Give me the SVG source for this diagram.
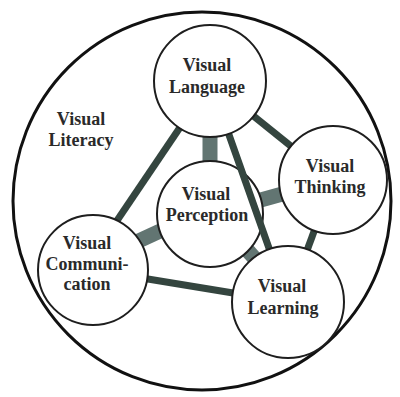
<svg xmlns="http://www.w3.org/2000/svg" width="400" height="397" viewBox="0 0 400 397">
  <style>
    .node { fill: #ffffff; stroke: #1e1e1e; stroke-width: 2; }
    .label { font-family: "Liberation Serif", "Times New Roman", serif; font-weight: bold; font-size: 18px; fill: #2a2a2a; text-anchor: middle; }
    .link { stroke: #34453f; stroke-width: 7; fill: none; }
    .bridge { stroke: #627572; stroke-width: 15; fill: none; }
  </style>
  <rect width="400" height="397" fill="#ffffff"/>

  <!-- Visual Literacy: the enclosing field -->
  <g id="visual-literacy">
    <circle cx="202" cy="201" r="189" fill="none" stroke="#111111" stroke-width="3"/>
    <text class="label" x="81" y="125">Visual</text>
    <text class="label" x="81" y="146">Literacy</text>
  </g>

  <!-- short bridges from the central circle -->
  <g id="bridges">
    <line class="bridge" x1="210" y1="214" x2="210" y2="81"/>
    <line class="bridge" x1="210" y1="214" x2="333" y2="180"/>
    <line class="bridge" x1="210" y1="208" x2="93" y2="262"/>
    <line class="bridge" x1="210" y1="208" x2="288" y2="296" stroke="#7d8f8b"/>
  </g>

  <g id="visual-perception">
    <circle class="node" cx="210" cy="214" r="53"/>
    <text class="label" x="206" y="200">Visual</text>
    <text class="label" x="207" y="221">Perception</text>
  </g>

  <!-- ring of connectors between the outer circles -->
  <g id="connectors">
    <line class="link" x1="185" y1="120" x2="112" y2="228"/>
    <line class="link" x1="210" y1="81" x2="288" y2="302"/>
    <line class="link" x1="210" y1="81" x2="333" y2="180"/>
    <line class="link" x1="333" y1="180" x2="288" y2="302"/>
    <line class="link" x1="93" y1="270" x2="288" y2="302"/>
  </g>

  <g id="visual-language">
    <circle class="node" cx="210" cy="81" r="56"/>
    <text class="label" x="207" y="71">Visual</text>
    <text class="label" x="207" y="93">Language</text>
  </g>

  <g id="visual-thinking">
    <circle class="node" cx="333" cy="180" r="54"/>
    <text class="label" x="330" y="172">Visual</text>
    <text class="label" x="330" y="193">Thinking</text>
  </g>

  <g id="visual-communication">
    <circle class="node" cx="93" cy="270" r="55"/>
    <text class="label" x="87" y="249">Visual</text>
    <text class="label" x="87" y="270">Communi-</text>
    <text class="label" x="87" y="290">cation</text>
  </g>

  <g id="visual-learning">
    <circle class="node" cx="288" cy="302" r="56"/>
    <text class="label" x="282" y="292">Visual</text>
    <text class="label" x="283" y="314">Learning</text>
  </g>
</svg>
